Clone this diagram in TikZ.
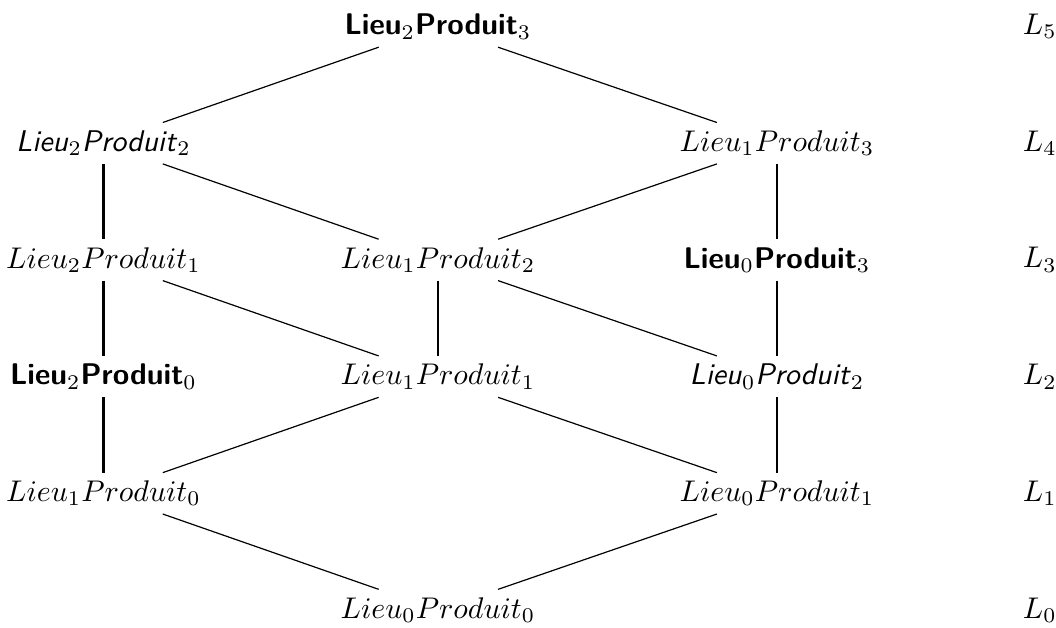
\documentclass[tikz,border=0pt]{standalone}
\usepackage{tikz}

\newcommand{\lieuM}[2]{$Lieu_{#1}Produit_{#2}$}
\newcommand{\lieuB}[2]{\textsf{\textbf{Lieu}}$_{#1}$\textsf{\textbf{Produit}}$_{#2}$}
\newcommand{\lieuI}[2]{\textsf{\textit{Lieu}}$_{#1}$\textsf{\textit{Produit}}$_{#2}$}

\begin{document}
\begin{tikzpicture}[elem/.style={inner xsep=1pt, inner ysep=2.5pt}, vert/.style={line width=0.8pt}, diag/.style={line width=0.4pt}]

\def\colA{1.216}
\def\colB{5.147}
\def\colC{9.131}
\def\colL{12.22}

\useasboundingbox (0,0) rectangle (12.41,7.369);

\begin{scope}[yshift=0.2cm, y=1.3715cm]

\node [elem] (l00) at (\colB,0) {\lieuM{0}{0}};

\node [elem] (l10) at (\colA,1) {\lieuM{1}{0}};
\node [elem] (l01) at (\colC,1) {\lieuM{0}{1}};

\node [elem] (l20) at (\colA,2) {\lieuB{2}{0}};
\node [elem] (l11) at (\colB,2) {\lieuM{1}{1}};
\node [elem] (l02) at (\colC,2) {\lieuI{0}{2}};

\node [elem] (l21) at (\colA,3) {\lieuM{2}{1}};
\node [elem] (l12) at (\colB,3) {\lieuM{1}{2}};
\node [elem] (l03) at (\colC,3) {\lieuB{0}{3}};

\node [elem] (l22) at (\colA,4) {\lieuI{2}{2}};
\node [elem] (l13) at (\colC,4) {\lieuM{1}{3}};

\node [elem] (l23) at (\colB,5) {\lieuB{2}{3}};

\foreach \i in {0,...,5}
  \node (L\i) at (\colL,\i) {$L_{\i}$};

\draw [diag] (l23) -- (l22);
\draw [diag] (l23) -- (l13);
\draw [diag] (l22) -- (l12);
\draw [diag] (l13) -- (l12);
\draw [diag] (l21) -- (l11);
\draw [diag] (l12) -- (l02);
\draw [diag] (l11) -- (l10);
\draw [diag] (l11) -- (l01);
\draw [diag] (l10) -- (l00);
\draw [diag] (l01) -- (l00);

\draw [vert] (l22) -- (l21);
\draw [vert] (l21) -- (l20);
\draw [vert] (l20) -- (l10);
\draw [vert] (l12) -- (l11);
\draw [vert] (l13) -- (l03);
\draw [vert] (l03) -- (l02);
\draw [vert] (l02) -- (l01);

\end{scope}

\end{tikzpicture}
\end{document}
